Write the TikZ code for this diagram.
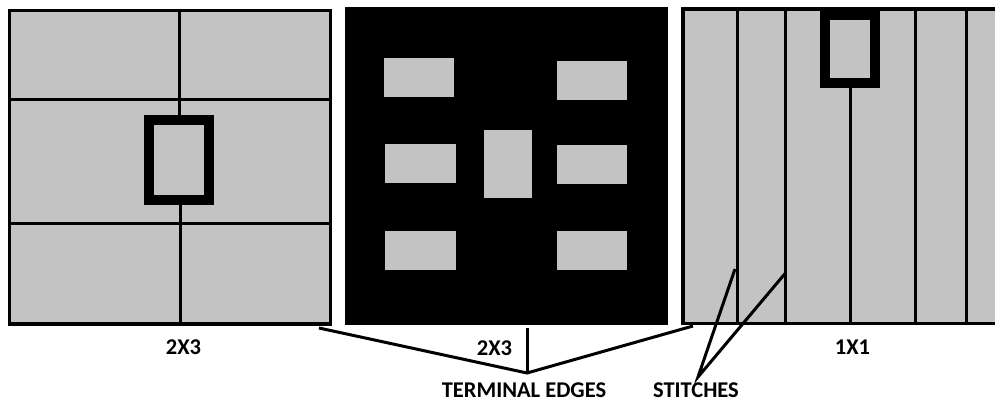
\documentclass[tikz,border=0pt]{standalone}
\usepackage{fontspec}
\setmainfont{Carlito}
\definecolor{tilegray}{RGB}{195,195,195}
\begin{document}
\begin{tikzpicture}[x=1pt,y=-1pt,
  panel/.style={fill=tilegray,draw=black,line width=3.2pt},
  seam/.style={draw=black,line width=3pt},
  ringbox/.style={draw=black,line width=10pt},
  padbox/.style={fill=tilegray},
  lead/.style={draw=black,line width=3pt},
  tag/.style={font=\bfseries\fontsize{22.5}{26}\selectfont,inner sep=0pt,anchor=center}]
\useasboundingbox (0,0) rectangle (995,403);
\clip (0,0) rectangle (995,403);

% left tile: 2x3 grid with a via ring in the middle
\draw[panel] (9.5,10.5) rectangle (330.5,324);
\draw[seam] (9.5,99.5) -- (330.5,99.5);
\draw[seam] (9.5,224) -- (330.5,224);
\draw[seam] (179,10.5) -- (179,120);
\draw[seam] (180,200) -- (180,324);
\draw[ringbox] (149,120) rectangle (209,200);

% middle tile: black field with gray pads
\fill[black] (345,7) rectangle (668,325);
\fill[padbox] (384.3,57.7) rectangle (454.3,97);
\fill[padbox] (556.7,61.3) rectangle (626.7,100.3);
\fill[padbox] (385.3,143.7) rectangle (455.7,183);
\fill[padbox] (484,130.3) rectangle (532,197.7);
\fill[padbox] (556.7,145) rectangle (626.7,184);
\fill[padbox] (385.3,231) rectangle (455.7,270.3);
\fill[padbox] (556.7,231) rectangle (626.7,270.3);

% right tile: vertical strips with a ring at the top
\draw[panel] (683,9) rectangle (1010,323.5);
\draw[seam] (737.7,9) -- (737.7,323.5);
\draw[seam] (785.7,9) -- (785.7,323.5);
\draw[seam] (915.5,9) -- (915.5,323.5);
\draw[seam] (966,9) -- (966,323.5);
\draw[seam] (850,83.5) -- (850,323.5);
\draw[ringbox] (825,15) rectangle (874.5,83.5);

% connector end points
\coordinate (leftcorner) at (319,328);
\coordinate (midbottom) at (527,328);
\coordinate (rightcorner) at (693,326);
\coordinate (termapex) at (527,373);
\coordinate (stitchA) at (735,269);
\coordinate (stitchB) at (785.5,273);
\coordinate (stitchapex) at (698,377);

\draw[lead] (leftcorner) -- (termapex) -- (rightcorner);
\draw[lead] (midbottom) -- (termapex);
\draw[lead] (stitchA) -- (stitchapex) -- (stitchB);

% labels
\node[tag] (lblleft) at (183.5,347) {2X3};
\node[tag] (lblmid) at (494.5,348) {2X3};
\node[tag] (lblright) at (852.5,347) {1X1};
\node[tag] (lblterm) at (524,390) {TERMINAL EDGES};
\node[tag] (lblstitch) at (696,390) {STITCHES};
\end{tikzpicture}
\end{document}
